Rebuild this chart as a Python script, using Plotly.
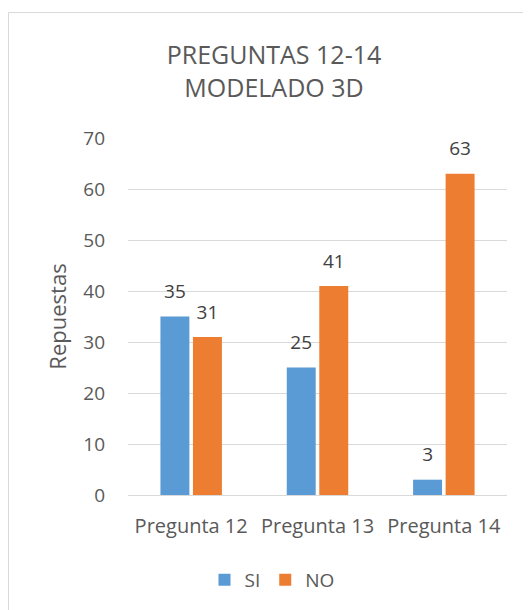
import plotly.graph_objects as go

categories = ["Pregunta 12", "Pregunta 13", "Pregunta 14"]
si_values = [35, 25, 3]
no_values = [31, 41, 63]
series_names = ["SI", "NO"]
title_lines = ["PREGUNTAS 12-14", "MODELADO 3D"]
y_title = "Repuestas"

FONT = "Open Sans, Noto Sans, sans-serif"
TXT = "#595959"
LBL = "#404040"
COLORS = ["#5B9BD5", "#ED7D31"]
GAP = 0.485

fig = go.Figure()
for name, vals, col in zip(series_names, [si_values, no_values], COLORS):
    fig.add_trace(go.Bar(
        x=categories, y=vals, name=name,
        marker=dict(color=col, line=dict(width=0)),
        hoverinfo="x+y+name",
    ))
for name, vals in zip(series_names, [si_values, no_values]):
    fig.add_trace(go.Scatter(
        x=categories, y=vals, name=name + " etiquetas",
        mode="markers+text", text=[str(v) for v in vals],
        textposition="top center",
        textfont=dict(family=FONT, size=19, color=LBL),
        marker=dict(size=20, opacity=0),
        showlegend=False, hoverinfo="skip", cliponaxis=False,
    ))

# page body adds an 8px offset; positions below are in figure pixels
OFF = 8
W, H = 531, 610
L, T = 128 - OFF, 138 - OFF
R = W - (507 - OFF)
B = H - (495 - OFF)
pw = W - L - R
ph = H - T - B

def px_to_paper_x(px):
    return (px - OFF - L) / pw

def px_to_paper_y(py):
    return (H - B - (py - OFF)) / ph

fig.update_layout(
    width=W, height=H,
    margin=dict(l=L, r=R, t=T, b=B, autoexpand=False),
    paper_bgcolor="white", plot_bgcolor="white",
    font=dict(family=FONT, color=TXT),
    barmode="group", bargap=GAP, bargroupgap=0.11,
    scattermode="group", scattergap=GAP,
    title=dict(
        text="<br>".join(title_lines),
        x=(274 - OFF) / W, xref="container", xanchor="center",
        y=1 - (64 - OFF) / H, yref="container", yanchor="middle",
        font=dict(family=FONT, size=25, color=TXT),
    ),
    xaxis=dict(
        showgrid=False, showline=True, linecolor="#D9D9D9", linewidth=1,
        ticks="", tickfont=dict(family=FONT, size=20, color=TXT),
        ticklabelstandoff=13,
    ),
    yaxis=dict(
        range=[0, 70], dtick=10, showgrid=True, gridcolor="#D9D9D9",
        zeroline=False, showline=False, ticks="",
        tickfont=dict(family=FONT, size=19, color=TXT),
        ticklabelstandoff=22,
        title=dict(text=y_title, font=dict(family=FONT, size=22, color=TXT), standoff=10),
    ),
    legend=dict(
        orientation="h", x=px_to_paper_x(272), xanchor="center",
        y=px_to_paper_y(580), yanchor="middle",
        font=dict(family=FONT, size=19, color=TXT),
        itemwidth=30, tracegroupgap=0,
    ),
    showlegend=True,
    shapes=[
        dict(type="line", xref="paper", yref="paper",
             x0=px_to_paper_x(8.5), x1=px_to_paper_x(8.5),
             y0=px_to_paper_y(12.5), y1=px_to_paper_y(640),
             line=dict(color="#D9D9D9", width=1)),
        dict(type="line", xref="paper", yref="paper",
             x0=px_to_paper_x(8.5), x1=px_to_paper_x(640),
             y0=px_to_paper_y(12.5), y1=px_to_paper_y(12.5),
             line=dict(color="#D9D9D9", width=1)),
    ],
)

fig.write_html("out.html")
